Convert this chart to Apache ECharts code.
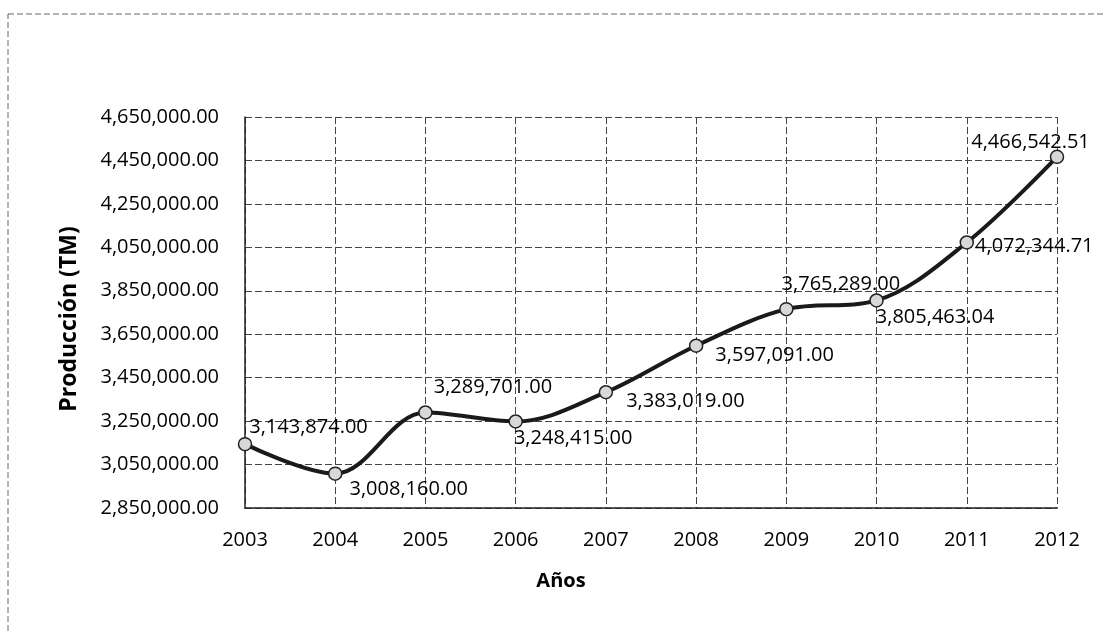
<!DOCTYPE html>
<html>
<head>
<meta charset="utf-8">
<script src="https://cdn.jsdelivr.net/npm/echarts@6/dist/echarts.min.js"></script>
<style>
  html, body { margin: 0; padding: 0; background: #fff; }
  #main { width: 1103px; height: 631px; }
</style>
</head>
<body>
<div id="main"></div>
<script>
// datos
var years = ['2003', '2004', '2005', '2006', '2007', '2008', '2009', '2010', '2011', '2012'];
var produccion = [3143874.00, 3008160.00, 3289701.00, 3248415.00, 3383019.00, 3597091.00, 3765289.00, 3805463.04, 4072344.71, 4466542.51];
var yTicks = [2850000, 3050000, 3250000, 3450000, 3650000, 3850000, 4050000, 4250000, 4450000, 4650000];

// desplazamiento de cada etiqueta respecto al punto
var labelOffsets = [[-8, -17], [2, 16], [-4, -25], [-14, 17], [8, 9], [7, 10], [-17, -25], [-13, 17], [-4, 4], [-98, -15]];

var font = 'Open Sans';

function fmt (v) {
  return Number(v).toLocaleString('en-US', { minimumFractionDigits: 2, maximumFractionDigits: 2 });
}

var myChart = echarts.init(document.getElementById('main'));

var gridLine = {
  show: true,
  lineStyle: { color: '#444', width: 1, type: [7, 3] }
};

var option = {
  animation: false,
  backgroundColor: '#fff',
  grid: {
    left: 245,
    right: 46,
    top: 117,
    bottom: 123,
    containLabel: false
  },
  graphic: [
    {
      type: 'rect',
      shape: { x: 8, y: 14, width: 1120, height: 660 },
      style: { fill: 'none', stroke: '#666', lineWidth: 1, lineDash: [6, 3] }
    },
    {
      type: 'text',
      x: 69,
      y: 319,
      rotation: Math.PI / 2,
      style: {
        text: 'Producción (TM)',
        font: 'bold 23px "' + font + '"',
        fill: '#000',
        align: 'center',
        verticalAlign: 'middle'
      }
    },
    {
      type: 'text',
      x: 561,
      y: 581,
      style: {
        text: 'Años',
        font: 'bold 20px "' + font + '"',
        fill: '#000',
        align: 'center',
        verticalAlign: 'middle'
      }
    }
  ],
  xAxis: {
    type: 'category',
    data: years,
    boundaryGap: false,
    axisLine: { lineStyle: { color: '#222', width: 1.5 } },
    axisTick: { show: false },
    axisLabel: { color: '#000', fontSize: 20, fontFamily: font, margin: 22 },
    splitLine: gridLine
  },
  yAxis: {
    type: 'value',
    min: 2850000,
    max: 4650000,
    axisLine: { show: true, lineStyle: { color: '#222', width: 1.5 } },
    axisTick: { show: false, customValues: yTicks },
    axisLabel: {
      customValues: yTicks,
      color: '#000',
      fontSize: 20,
      fontFamily: font,
      margin: 26,
      formatter: fmt
    },
    splitLine: Object.assign({ customValues: yTicks }, gridLine)
  },
  series: [{
    type: 'line',
    smooth: 0.35,
    data: produccion.map(function (v, i) {
      return {
        value: v,
        label: { offset: labelOffsets[i] }
      };
    }),
    symbol: 'circle',
    symbolSize: 13,
    lineStyle: { color: '#1a1a1a', width: 4 },
    itemStyle: { color: '#d8d8d8', borderColor: '#222', borderWidth: 1.5 },
    label: {
      show: true,
      position: 'right',
      color: '#000',
      fontSize: 20,
      fontFamily: font,
      formatter: function (p) { return fmt(p.value); }
    }
  }]
};

myChart.setOption(option);

window.addEventListener('resize', function () {
  myChart.resize();
});
</script>
</body>
</html>
